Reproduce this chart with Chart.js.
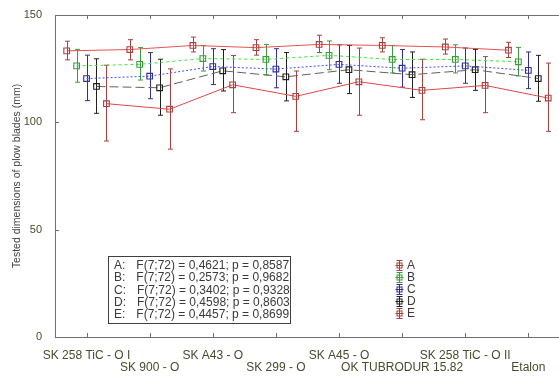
<!DOCTYPE html>
<html>
<head>
<meta charset="utf-8">
<script src="https://cdn.jsdelivr.net/npm/chart.js@4"></script>
<style>
  html, body { margin: 0; padding: 0; background: #fff; overflow: hidden; }
  #wrap { width: 565px; height: 379px; }
</style>
</head>
<body>
<div id="wrap"><canvas id="chart" width="565" height="379"></canvas></div>
<script>
/* ===== DATA ===== */
const CATEGORIES = [
  "SK 258 TiC - O I", "SK 900 - O", "SK A43 - O", "SK 299 - O",
  "SK A45 - O", "OK TUBRODUR 15.82", "SK 258 TiC - O II", "Etalon"
];
const Y_TICKS = [0, 50, 100, 150];

const meanA = [133.3, 133.9, 135.8, 134.8, 136.3, 135.8, 135.1, 133.6];
const lowA  = [129.1, 129.1, 132.8, 131.3, 132.5, 132.8, 131.8, 130.2];
const highA = [137.8, 138.5, 139.7, 138.5, 140.6, 139.4, 138.8, 137.3];

const meanB = [126.3, 127.0, 129.7, 129.3, 131.2, 129.3, 129.3, 128.2];
const lowB  = [118.7, 119.7, 123.9, 122.1, 124.5, 123.0, 123.0, 121.6];
const highB = [134.0, 134.8, 135.8, 136.3, 137.9, 135.8, 136.1, 134.9];

const meanC = [120.4, 121.5, 126.0, 124.8, 127.0, 125.2, 126.3, 124.2];
const lowC  = [110.1, 111.0, 117.6, 116.1, 118.2, 116.4, 118.2, 115.7];
const highC = [131.3, 132.5, 134.3, 134.3, 136.1, 133.9, 134.6, 132.8];

const meanD = [116.7, 116.1, 124.0, 121.2, 124.5, 122.2, 124.5, 120.4];
const lowD  = [104.2, 103.3, 114.6, 110.0, 113.4, 111.6, 114.9, 109.8];
const highD = [129.6, 129.4, 133.9, 132.5, 135.8, 132.8, 134.0, 131.2];

const meanE = [108.7, 106.1, 117.5, 112.1, 118.9, 114.9, 117.2, 111.3];
const lowE  = [91.3, 87.5, 104.5, 95.8, 103.3, 101.2, 104.5, 95.8];
const highE = [126.6, 124.9, 131.1, 123.9, 134.6, 129.4, 130.6, 127.6];

const STATS = [
  ["A:", "F(7;72) = 0,4621; p = 0,8587"],
  ["B:", "F(7;72) = 0,2573; p = 0,9682"],
  ["C:", "F(7;72) = 0,3402; p = 0,9328"],
  ["D:", "F(7;72) = 0,4598; p = 0,8603"],
  ["E:", "F(7;72) = 0,4457; p = 0,8699"]
];
/* ================ */

const FONT = "'Liberation Sans', Arial, sans-serif";
const TEXT = "#4a4a30";
const SHIFT = 0.1575; // horizontal spread of the series inside a group

const SERIES = [
  { name: "A", mean: meanA, lo: lowA, hi: highA, marker: "#a8403c", line: "#e85050", dash: [] },
  { name: "B", mean: meanB, lo: lowB, hi: highB, marker: "#3c9c3c", line: "#40e040", dash: [3, 3] },
  { name: "C", mean: meanC, lo: lowC, hi: highC, marker: "#30309c", line: "#4050ff", dash: [2, 2] },
  { name: "D", mean: meanD, lo: lowD, hi: highD, marker: "#202020", line: "#606060", dash: [9, 4] },
  { name: "E", mean: meanE, lo: lowE, hi: highE, marker: "#a8403c", line: "#e04848", dash: [] }
];

Chart.defaults.font.family = FONT;

function offsetOf(si) {
  return (si - 2) * SHIFT;
}

// error bars, frame, inner ticks, stats box, legend
const extras = {
  id: "extras",
  beforeDatasetsDraw(chart) {
    const ctx = chart.ctx;
    const xs = chart.scales.x, ys = chart.scales.y;
    SERIES.forEach((s, si) => {
      ctx.save();
      ctx.strokeStyle = s.marker;
      ctx.lineWidth = 1;
      s.mean.forEach((m, i) => {
        const px = Math.round(xs.getPixelForValue(i + offsetOf(si))) + 0.5;
        const t = ys.getPixelForValue(s.hi[i]);
        const b = ys.getPixelForValue(s.lo[i]);
        ctx.beginPath();
        ctx.moveTo(px, t); ctx.lineTo(px, b);
        ctx.moveTo(px - 2.5, t); ctx.lineTo(px + 2.5, t);
        ctx.moveTo(px - 2.5, b); ctx.lineTo(px + 2.5, b);
        ctx.stroke();
      });
      ctx.restore();
    });
  },
  afterDraw(chart) {
    const ctx = chart.ctx;
    const a = chart.chartArea;
    const xs = chart.scales.x, ys = chart.scales.y;
    ctx.save();

    // frame (right side runs off the page)
    ctx.strokeStyle = "#707070";
    ctx.lineWidth = 1;
    ctx.beginPath();
    ctx.moveTo(a.right + 5, a.top + 0.5);
    ctx.lineTo(a.left + 0.5, a.top + 0.5);
    ctx.lineTo(a.left + 0.5, a.bottom + 0.5);
    ctx.lineTo(a.right + 5, a.bottom + 0.5);
    ctx.stroke();

    ctx.beginPath();
    CATEGORIES.forEach((c, i) => {
      const px = Math.round(xs.getPixelForValue(i)) + 0.5;
      ctx.moveTo(px, a.top); ctx.lineTo(px, a.top + 4);
      ctx.moveTo(px, a.bottom); ctx.lineTo(px, a.bottom - 4);
    });
    Y_TICKS.forEach((v) => {
      const py = Math.round(ys.getPixelForValue(v)) + 0.5;
      ctx.moveTo(a.left, py); ctx.lineTo(a.left + 4, py);
    });
    ctx.stroke();

    // stats box
    ctx.strokeStyle = "#404040";
    ctx.strokeRect(108.5, 256.5, 182, 67);
    ctx.font = "12px " + FONT;
    ctx.fillStyle = "#3a3a3a";
    ctx.textBaseline = "middle";
    ctx.textAlign = "left";
    STATS.forEach((r, i) => {
      const y = 265.5 + i * 12.4;
      ctx.fillText(r[0], 114, y);
      ctx.fillText(r[1], 114 + ctx.measureText(r[0]).width + 11, y);
    });

    // legend
    SERIES.forEach((s, i) => {
      const y = Math.round(265 + i * 12) + 0.5;
      const x = 399.5;
      ctx.strokeStyle = s.marker;
      ctx.lineWidth = 1;
      ctx.beginPath();
      ctx.moveTo(x, y - 5); ctx.lineTo(x, y + 5);
      ctx.moveTo(x - 3, y - 5); ctx.lineTo(x + 3, y - 5);
      ctx.moveTo(x - 3, y + 5); ctx.lineTo(x + 3, y + 5);
      ctx.moveTo(x - 4, y); ctx.lineTo(x + 4, y);
      ctx.stroke();
      ctx.strokeRect(x - 2.5, y - 2.5, 5, 5);
      ctx.fillStyle = "#3a3a3a";
      ctx.fillText(s.name, 407, y + 0.5);
    });
    ctx.restore();
  }
};

new Chart(document.getElementById("chart"), {
  type: "line",
  data: {
    datasets: SERIES.map((s, si) => ({
      label: s.name,
      data: s.mean.map((v, i) => ({ x: i + offsetOf(si), y: v })),
      borderColor: s.line,
      borderWidth: 1,
      borderDash: s.dash,
      pointStyle: "rect",
      pointRadius: 4,
      pointBorderWidth: 1.1,
      pointBorderColor: s.marker,
      pointBackgroundColor: "rgba(255,255,255,0)",
      tension: 0
    }))
  },
  options: {
    responsive: false,
    animation: false,
    layout: { padding: { top: 15, right: 1, left: 0, bottom: 0 } },
    plugins: { legend: { display: false }, tooltip: { enabled: false } },
    scales: {
      x: {
        type: "linear",
        min: -0.5,
        max: 7.5,
        grid: { display: false },
        border: { display: false },
        afterBuildTicks: (s) => {
          s.ticks = CATEGORIES.map((c, i) => ({ value: i }));
        },
        ticks: {
          autoSkip: false,
          maxRotation: 0,
          padding: 5,
          color: TEXT,
          font: { size: 12, lineHeight: 1 },
          callback: (v) => {
            const i = Math.round(v);
            return i % 2 ? ["", CATEGORIES[i]] : CATEGORIES[i];
          }
        }
      },
      y: {
        min: 0,
        max: 150,
        grid: { display: false },
        border: { display: false },
        afterBuildTicks: (s) => {
          s.ticks = Y_TICKS.map((v) => ({ value: v }));
        },
        afterFit: (s) => {
          s.width = 55;
        },
        ticks: { padding: 5, color: TEXT, font: { size: 11 } },
        title: {
          display: true,
          text: "Tested dimensions of plow blades (mm)",
          color: "#444",
          font: { size: 10.5 },
          padding: { top: 11, bottom: 0 }
        }
      }
    }
  },
  plugins: [extras]
});
</script>
</body>
</html>
